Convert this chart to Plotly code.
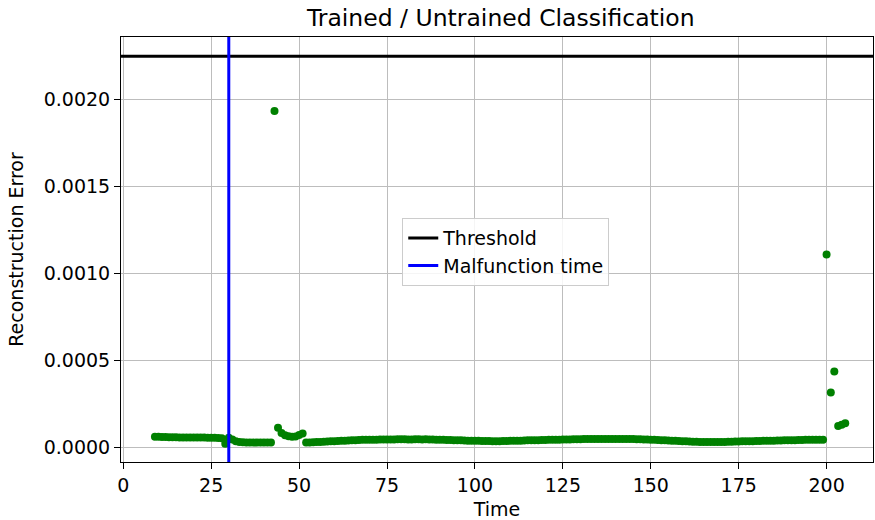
import plotly.graph_objects as go

# ---- data ----
# main band before the spike (time 9..42)
band1_time = list(range(9, 43))
band1_err_e6 = [60, 60, 59, 59, 58, 58, 58, 57, 57, 57,
                57, 56, 56, 56, 56, 55, 55, 55, 54, 52,
                21, 55, 45, 35, 30, 29, 28, 28, 27, 27,
                27, 27, 28, 28]

spike_time = [43]
spike_err = [0.001935]

bump_time = [44, 45, 46, 47, 48, 49, 50, 51]
bump_err_e6 = [113, 82, 69, 63, 60, 62, 70, 79]

# main band after the bump (time 52..199)
band2_time = list(range(52, 200))
band2_err_e6 = [27, 28, 29, 30, 31, 32, 33, 34, 35, 36,
                37, 38, 39, 40, 41, 42, 43, 43, 44, 44,
                44, 45, 45, 45, 45, 45, 46, 46, 46, 45,
                45, 46, 46, 45, 46, 45, 45, 44, 44, 43,
                42, 42, 41, 40, 40, 39, 38, 38, 37, 37,
                36, 36, 36, 35, 35, 35, 36, 36, 37, 37,
                38, 38, 39, 40, 40, 41, 41, 42, 42, 43,
                43, 44, 44, 45, 45, 45, 46, 46, 46, 47,
                47, 47, 48, 48, 48, 48, 48, 48, 48, 47,
                47, 47, 47, 47, 46, 46, 45, 45, 44, 43,
                42, 41, 40, 39, 38, 37, 36, 35, 34, 33,
                32, 32, 31, 31, 30, 30, 30, 31, 31, 31,
                32, 32, 33, 33, 34, 34, 35, 35, 36, 36,
                37, 37, 38, 38, 39, 39, 40, 40, 41, 41,
                42, 42, 43, 43, 43, 44, 44, 44]

tail_time = [200.0, 201.2, 202.2, 203.3, 204.3, 205.3]
tail_err = [0.00111, 0.000315, 0.000436, 0.000122, 0.000130, 0.000138]

threshold = 0.00225
malfunction_time = 30

x_ticks = [0, 25, 50, 75, 100, 125, 150, 175, 200]
y_ticks = [0.0, 0.0005, 0.0010, 0.0015, 0.0020]

# ---- assemble ----
times = band1_time + spike_time + bump_time + band2_time + tail_time
errors = ([v * 1e-6 for v in band1_err_e6] + spike_err +
          [v * 1e-6 for v in bump_err_e6] +
          [v * 1e-6 for v in band2_err_e6] + tail_err)

FONT = "DejaVu Sans"

fig = go.Figure()
fig.add_trace(go.Scatter(
    x=times, y=errors, mode="markers",
    marker=dict(color="#008000", size=8, line=dict(width=0)),
    showlegend=False, hoverinfo="x+y",
))

fig.add_hline(y=threshold, line=dict(color="black", width=3),
              showlegend=True, name="Threshold", layer="above")
fig.add_vline(x=malfunction_time, line=dict(color="#0000ff", width=3),
              showlegend=True, name="Malfunction time", layer="above")

axis_common = dict(
    showline=True, linecolor="black", linewidth=1, mirror=True,
    ticks="outside", ticklen=6, tickwidth=1.3, tickcolor="black",
    showgrid=True, gridcolor="#bdbdbd", gridwidth=1.3,
    zeroline=False, automargin=False,
    tickfont=dict(family=FONT, size=19, color="black"),
)

fig.update_xaxes(
    range=[-0.65, 213.2], tickvals=x_ticks,
    ticktext=[str(v) for v in x_ticks],
    title=dict(text="Time", font=dict(family=FONT, size=19, color="black")),
    **axis_common,
)
fig.update_yaxes(
    range=[-0.0000847, 0.002361], tickvals=y_ticks,
    ticktext=[f"{v:.4f}" for v in y_ticks],
    title=dict(text="Reconstruction Error", font=dict(family=FONT, size=19, color="black")),
    **axis_common,
)

fig.update_layout(
    width=875, height=520,
    margin=dict(l=121, r=2, t=37, b=58, autoexpand=False),
    paper_bgcolor="white", plot_bgcolor="white",
    font=dict(family=FONT, size=19, color="black"),
    title=dict(text="Trained / Untrained Classification",
               font=dict(family=FONT, size=23.5, color="black"),
               x=0.505, xanchor="center", xref="paper",
               y=0.9654, yref="container", yanchor="middle"),
    legend=dict(x=0.374, y=0.574, xanchor="left", yanchor="top",
                bgcolor="rgba(255,255,255,0.85)", bordercolor="#cccccc",
                borderwidth=1, font=dict(family=FONT, size=19, color="black"),
                tracegroupgap=0, itemwidth=30),
    showlegend=True,
)

# remove the default page margin so the figure fills the window exactly
fig.write_html(
    "out.html",
    config={"displayModeBar": False},
    post_script="document.body.style.margin='0';document.body.style.overflow='hidden';",
)
